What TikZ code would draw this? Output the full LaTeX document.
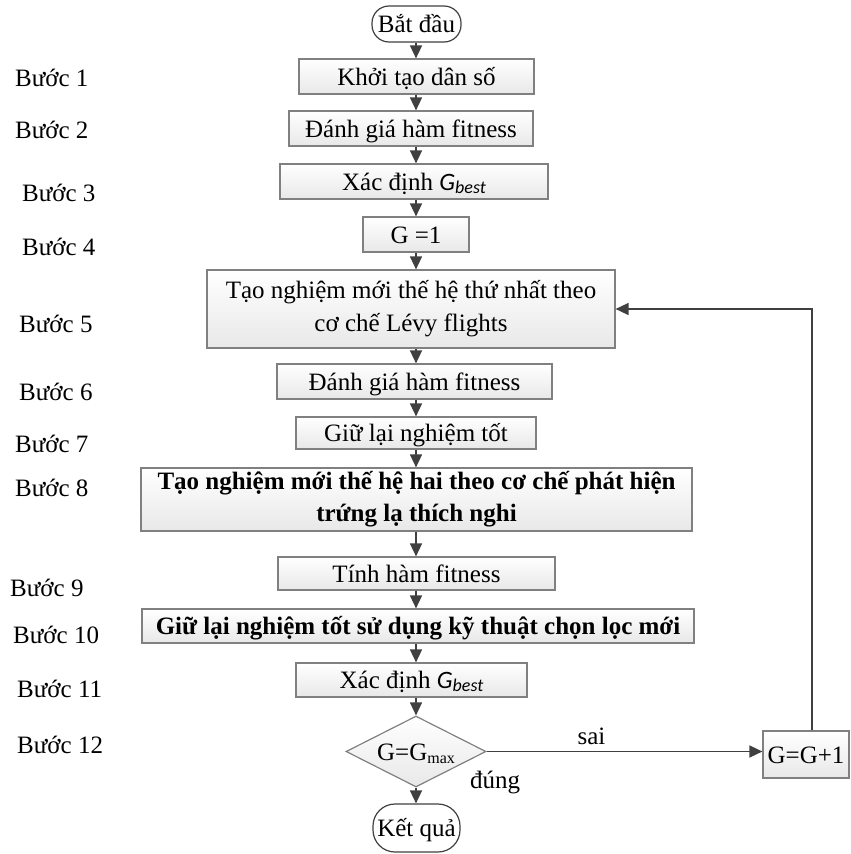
\documentclass[tikz,border=0pt]{standalone}
\usepackage{fontspec}
\setmainfont{Liberation Serif}
\newfontfamily\gfont{Carlito}
\usetikzlibrary{shapes.geometric,arrows.meta}

\definecolor{boxgray}{HTML}{808080}
\definecolor{linegray}{HTML}{404040}

% italic subscripted G as used for G_best, and the upright G_max
\newcommand{\gbest}{{\gfont\itshape G\raisebox{-0.28ex}{\fontsize{18}{18}\selectfont best}}}
\newcommand{\gmax}{G\raisebox{-0.32ex}{\fontsize{16}{16}\selectfont max}}

\begin{document}
\begin{tikzpicture}[x=1pt,y=-1pt,
  font=\fontsize{25}{33}\selectfont,
  oneline/.style={text height=21pt, text depth=4pt},
  box/.style={draw=boxgray, line width=1.2pt, top color=white, bottom color=black!9,
    inner sep=0pt, align=center, minimum height=35pt},
  term/.style={draw=linegray, line width=1.2pt, fill=white, inner sep=0pt, oneline},
  decision/.style={diamond, aspect=2, draw=boxgray, line width=1.2pt, top color=white,
    bottom color=black!9, inner sep=-6pt, minimum width=140pt, minimum height=71pt, oneline},
  arr/.style={draw=linegray, line width=1.6pt, -{Triangle[length=13pt,width=12pt]}},
  stepl/.style={anchor=west, inner sep=0pt},
]
\useasboundingbox (0,0) rectangle (851,854);

% vertical axis the main flow runs along
\coordinate (axis) at (416,0);
\coordinate (loopx) at (812,0);

% terminals
\node[term, rounded corners=17pt, minimum width=89pt, minimum height=36pt] (start) at (416.5,24) {Bắt đầu};
\node[term, rounded corners=22pt, minimum width=87pt, minimum height=48pt] (stop) at (416.5,828) {Kết quả};

% process boxes
\node[box, oneline, minimum width=235pt] (b1) at (416.5,76.5) {Khởi tạo dân số};
\node[box, oneline, minimum width=244pt] (b2) at (411,128.5) {Đánh giá hàm fitness};
\node[box, oneline, minimum width=268pt] (b3) at (414,181.5) {Xác định \gbest};
\node[box, oneline, minimum width=106pt] (b4) at (416,234.5) {G =1};
\node[box, minimum width=408pt, minimum height=78pt] (b5) at (411,309) {Tạo nghiệm mới thế hệ thứ nhất theo\\cơ chế Lévy flights};
\node[box, oneline, minimum width=275pt] (b6) at (414.5,381.5) {Đánh giá hàm fitness};
\node[box, oneline, minimum width=240pt, minimum height=32pt] (b7) at (416,433) {Giữ lại nghiệm tốt};
\node[box, minimum width=551pt, minimum height=63pt, font=\fontsize{25}{32}\selectfont\bfseries] (b8) at (416.5,499.5) {Tạo nghiệm mới thế hệ hai theo cơ chế phát hiện\\trứng lạ thích nghi};
\node[box, oneline, minimum width=277pt, minimum height=33pt] (b9) at (416.5,573.5) {Tính hàm fitness};
\node[box, oneline, minimum width=552pt, minimum height=34pt, font=\fontsize{25}{32}\selectfont\bfseries] (b10) at (418,626) {Giữ lại nghiệm tốt sử dụng kỹ thuật chọn lọc mới};
\node[box, oneline, minimum width=231pt, minimum height=34pt] (b11) at (411.5,680) {Xác định \gbest};
\node[decision] (dec) at (416,751.5) {G=\gmax};
\node[box, oneline, minimum width=86pt, minimum height=47pt] (inc) at (806,754.5) {G=G+1};

% step labels
\node[stepl] (s1) at (15,78) {Bước 1};
\node[stepl] (s2) at (15,130) {Bước 2};
\node[stepl] (s3) at (22,193) {Bước 3};
\node[stepl] (s4) at (22,247) {Bước 4};
\node[stepl] (s5) at (19,324) {Bước 5};
\node[stepl] (s6) at (19,392) {Bước 6};
\node[stepl] (s7) at (15,444) {Bước 7};
\node[stepl] (s8) at (15,488) {Bước 8};
\node[stepl] (s9) at (10,588) {Bước 9};
\node[stepl] (s10) at (13,635) {Bước 10};
\node[stepl] (s11) at (17,689) {Bước 11};
\node[stepl] (s12) at (17,745) {Bước 12};

% main flow
\foreach \a/\b in {start/b1, b1/b2, b2/b3, b3/b4, b4/b5, b5/b6, b6/b7, b7/b8,
                   b8/b9, b9/b10, b10/b11, b11/dec, dec/stop}
  \draw[arr] (\a.south -| axis) -- (\b.north -| axis);

% branch and loop back
\draw[arr] (dec.east) -- node[pos=0.38, above=6pt, inner sep=0pt] (sai) {sai} (dec.east -| inc.west);
\node[inner sep=0pt] (dung) at (495,782) {đúng};
\draw[arr] (inc.north -| loopx) |- (b5.east);
\end{tikzpicture}
\end{document}
